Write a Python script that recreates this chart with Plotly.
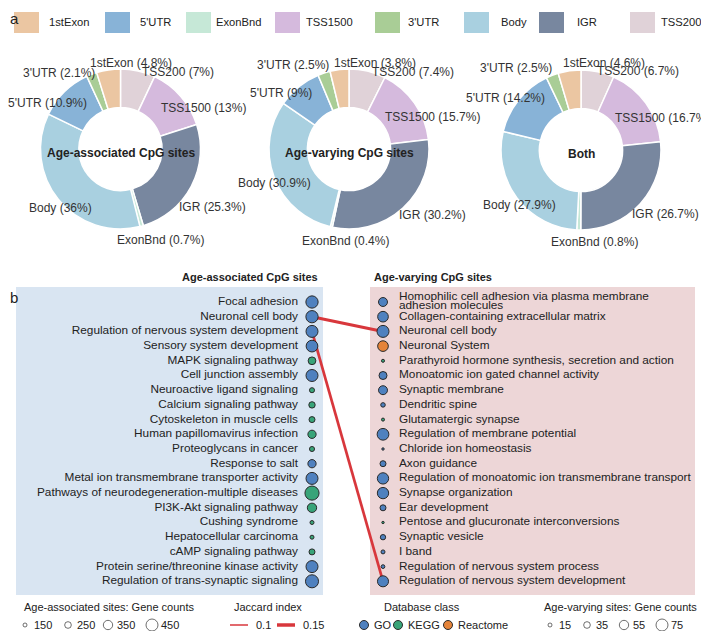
import plotly.graph_objects as go

W, H = 709, 631
PAGE = 8                     # browser body margin around the plot div
FW, FH = W - PAGE, H - PAGE  # figure size so the page fits the window
FONT = "Liberation Sans, Arial, sans-serif"

# ---------------- panel a: genomic region of CpG sites (%)
pie_labels = ["TSS200", "TSS1500", "IGR", "ExonBnd", "Body", "5'UTR", "3'UTR", "1stExon"]
pie_assoc = [7, 13, 25.3, 0.7, 36, 10.9, 2.1, 4.8]
pie_vary = [7.4, 15.7, 30.2, 0.4, 30.9, 9, 2.5, 3.8]
pie_both = [6.7, 16.7, 26.7, 0.8, 27.9, 14.2, 2.5, 4.6]
pie_titles = ["Age-associated CpG sites", "Age-varying CpG sites", "Both"]
legend_order = ["1stExon", "5'UTR", "ExonBnd", "TSS1500", "3'UTR", "Body", "IGR", "TSS200"]
region_colors = {
    "1stExon": "#ebc6a2", "5'UTR": "#88b3d7", "ExonBnd": "#c6e8d7", "TSS1500": "#d5badd",
    "3'UTR": "#a9cd96", "Body": "#a9d0e0", "IGR": "#78879f", "TSS200": "#e0d2d8",
}

# ---------------- panel b: enrichment terms
assoc_terms = [
    "Focal adhesion", "Neuronal cell body", "Regulation of nervous system development",
    "Sensory system development", "MAPK signaling pathway", "Cell junction assembly",
    "Neuroactive ligand signaling", "Calcium signaling pathway", "Cytoskeleton in muscle cells",
    "Human papillomavirus infection", "Proteoglycans in cancer", "Response to salt",
    "Metal ion transmembrane transporter activity", "Pathways of neurodegeneration-multiple diseases",
    "PI3K-Akt signaling pathway", "Cushing syndrome", "Hepatocellular carcinoma",
    "cAMP signaling pathway", "Protein serine/threonine kinase activity",
    "Regulation of trans-synaptic signaling",
]
assoc_counts = [460, 460, 450, 440, 290, 450, 190, 240, 225, 310,
                190, 310, 450, 530, 350, 150, 150, 225, 450, 490]
assoc_class = ["GO", "GO", "GO", "GO", "KEGG", "GO", "KEGG", "KEGG", "KEGG", "KEGG",
               "KEGG", "GO", "GO", "KEGG", "KEGG", "KEGG", "KEGG", "KEGG", "GO", "GO"]

vary_terms = [
    "Homophilic cell adhesion via plasma membrane\nadhesion molecules",
    "Collagen-containing extracellular matrix", "Neuronal cell body", "Neuronal System",
    "Parathyroid hormone synthesis, secretion and action", "Monoatomic ion gated channel activity",
    "Synaptic membrane", "Dendritic spine", "Glutamatergic synapse",
    "Regulation of membrane potential", "Chloride ion homeostasis", "Axon guidance",
    "Regulation of monoatomic ion transmembrane transport", "Synapse organization",
    "Ear development", "Pentose and glucuronate interconversions", "Synaptic vesicle",
    "I band", "Regulation of nervous system process", "Regulation of nervous system development",
]
vary_counts = [52, 65, 75, 65, 8, 45, 52, 19, 8, 73, 3, 30, 70, 70, 30, 3, 25, 15, 13, 68]
vary_class = ["GO", "GO", "GO", "Reactome", "KEGG", "GO", "GO", "GO", "KEGG", "GO",
              "GO", "GO", "GO", "GO", "GO", "KEGG", "GO", "GO", "GO", "GO"]

link_from = ["Neuronal cell body", "Regulation of nervous system development"]
link_to = ["Neuronal cell body", "Regulation of nervous system development"]
link_jaccard = [0.14, 0.13]

assoc_size_legend = [150, 250, 350, 450]
vary_size_legend = [15, 35, 55, 75]
jaccard_legend = [0.1, 0.15]
class_legend = ["GO", "KEGG", "Reactome"]
class_colors = {"GO": "#4f81bf", "KEGG": "#38a479", "Reactome": "#e5843a"}

# label placement around each donut (pixel offsets from donut centre)
label_offsets = [
    {"TSS200": (57, -77), "TSS1500": (83, -41), "IGR": (92, 58), "ExonBnd": (40, 91),
     "Body": (-60, 59), "5'UTR": (-73, -46), "3'UTR": (-62, -76), "1stExon": (11, -86)},
    {"TSS200": (64, -77), "TSS1500": (83, -32), "IGR": (83, 66), "ExonBnd": (-4, 92),
     "Body": (-75, 34), "5'UTR": (-68, -56), "3'UTR": (-56, -84), "1stExon": (26, -86)},
    {"TSS200": (57, -79), "TSS1500": (81, -32), "IGR": (84, 64), "ExonBnd": (13, 92),
     "Body": (-62, 55), "5'UTR": (-76, -52), "3'UTR": (-65, -82), "1stExon": (23, -87)},
]


def size_assoc(c):
    return c / 37.5


def size_vary(c):
    return 2 + c * 8 / 60


def jac_width(j):
    return 1.5 + (j - 0.1) * 40


def px(x):
    # page pixel -> paper fraction
    return (x - PAGE) / FW


def py(y):
    return 1 - (y - PAGE) / FH


def txt(size, color="#222222"):
    return dict(size=size, color=color, family=FONT)


fig = go.Figure()
annotations = []

# ---- donuts
pie_centers = [(120.5, 149), (349, 149), (581, 150)]
R = 80
for vals, title, (cx, cy), offs in zip([pie_assoc, pie_vary, pie_both], pie_titles, pie_centers, label_offsets):
    fig.add_trace(go.Pie(
        labels=pie_labels, values=vals, sort=False, direction="clockwise", rotation=0,
        hole=0.52, textinfo="none",
        marker=dict(colors=[region_colors[l] for l in pie_labels], line=dict(color="white", width=1.5)),
        domain=dict(x=[px(cx - R), px(cx + R)], y=[py(cy + R), py(cy - R)]),
        showlegend=False, hoverinfo="skip",
    ))
    annotations.append(dict(x=px(cx), y=py(cy + 4), xref="paper", yref="paper", text=f"<b>{title}</b>",
                            showarrow=False, xanchor="center", yanchor="middle", font=txt(12)))
    for lab, v in zip(pie_labels, vals):
        dx, dy = offs[lab]
        annotations.append(dict(x=px(cx + dx), y=py(cy + dy), xref="paper", yref="paper",
                                text=f"{lab} ({v:g}%)", showarrow=False,
                                xanchor="center", yanchor="middle", font=txt(12, "#333333")))

# ---- panel b (x: 0 = left column, 1 = right column; y: row index)
UNIT = 71
X0 = 312
ROW0, STEP = 302, 14.7
TOP, BOTTOM = 287, 595
LAB = 11.8

for f, t, j in zip(link_from, link_to, link_jaccard):
    fig.add_trace(go.Scatter(
        x=[0, 1], y=[assoc_terms.index(f), vary_terms.index(t)], mode="lines",
        line=dict(color="#d8373c", width=jac_width(j)), showlegend=False, hoverinfo="skip"))

fig.add_trace(go.Scatter(
    x=[0] * len(assoc_terms), y=list(range(len(assoc_terms))), mode="markers",
    marker=dict(size=[size_assoc(c) for c in assoc_counts],
                color=[class_colors[c] for c in assoc_class],
                line=dict(color="#2a2a2a", width=1), opacity=1),
    cliponaxis=False, showlegend=False, hoverinfo="skip"))
fig.add_trace(go.Scatter(
    x=[1] * len(vary_terms), y=list(range(len(vary_terms))), mode="markers",
    marker=dict(size=[size_vary(c) for c in vary_counts],
                color=[class_colors[c] for c in vary_class],
                line=dict(color="#2a2a2a", width=1), opacity=1),
    cliponaxis=False, showlegend=False, hoverinfo="skip"))

fig.add_trace(go.Scatter(
    x=[-14 / UNIT] * len(assoc_terms), y=list(range(len(assoc_terms))), mode="text",
    text=assoc_terms, textposition="middle left", cliponaxis=False,
    textfont=txt(LAB), showlegend=False, hoverinfo="skip"))

vx, vy, vt = [], [], []
for i, term in enumerate(vary_terms):
    lines = term.split("\n")
    for k, ln in enumerate(lines):
        vx.append(1 + 16 / UNIT)
        vy.append(i + (k - (len(lines) - 1) / 2) * 0.62)
        vt.append(ln)
fig.add_trace(go.Scatter(
    x=vx, y=vy, mode="text", text=vt, textposition="middle right", cliponaxis=False,
    textfont=txt(LAB), showlegend=False, hoverinfo="skip"))

# ---- background panels and legends
sw_left = [14, 105, 186, 275, 375, 464, 539, 630]
sw_text = [47, 138, 214, 304, 406, 499, 575, 659]
shapes = [
    dict(type="rect", xref="paper", yref="paper", x0=px(16), x1=px(323), y0=py(BOTTOM), y1=py(TOP),
         fillcolor="#d9e5f2", line_width=0, layer="below"),
    dict(type="rect", xref="paper", yref="paper", x0=px(370), x1=px(695), y0=py(BOTTOM), y1=py(TOP),
         fillcolor="#edd6d7", line_width=0, layer="below"),
]
for lab, x, xt in zip(legend_order, sw_left, sw_text):
    shapes.append(dict(type="rect", xref="paper", yref="paper", x0=px(x), x1=px(x + 25),
                       y0=py(33), y1=py(12), fillcolor=region_colors[lab], line_width=0))
    annotations.append(dict(x=px(xt), y=py(22), xref="paper", yref="paper", text=lab,
                            showarrow=False, xanchor="left", yanchor="middle", font=txt(11.2)))

LT, LI = 607, 625
leg_x = [25, 68, 108, 152]
fig.add_trace(go.Scatter(
    x=leg_x, y=[LI] * 4, mode="markers", xaxis="x2", yaxis="y2", cliponaxis=False,
    marker=dict(symbol="circle-open", size=[size_assoc(c) for c in assoc_size_legend],
                color="#333333", line=dict(width=1)), showlegend=False, hoverinfo="skip"))
for x, c in zip(leg_x, assoc_size_legend):
    annotations.append(dict(x=px(x + 7), y=py(LI), xref="paper", yref="paper", text=str(c),
                            showarrow=False, xanchor="left", yanchor="middle", font=txt(11)))

jac_x = [230, 277]
for x, j in zip(jac_x, jaccard_legend):
    fig.add_trace(go.Scatter(
        x=[x, x + 18], y=[LI, LI], mode="lines", xaxis="x2", yaxis="y2", cliponaxis=False,
        line=dict(color="#d8373c", width=jac_width(j)), showlegend=False, hoverinfo="skip"))
    annotations.append(dict(x=px(x + 24), y=py(LI), xref="paper", yref="paper", text=f"{j:g}",
                            showarrow=False, xanchor="left", yanchor="middle", font=txt(11)))

cls_x = [364, 398, 448]
fig.add_trace(go.Scatter(
    x=cls_x, y=[LI] * 3, mode="markers", xaxis="x2", yaxis="y2", cliponaxis=False,
    marker=dict(size=9, color=[class_colors[c] for c in class_legend],
                line=dict(color="#2a2a2a", width=1)), showlegend=False, hoverinfo="skip"))
for x, c in zip(cls_x, class_legend):
    annotations.append(dict(x=px(x + 8), y=py(LI), xref="paper", yref="paper", text=c,
                            showarrow=False, xanchor="left", yanchor="middle", font=txt(11)))

vleg_x = [550, 587, 624, 662]
fig.add_trace(go.Scatter(
    x=vleg_x, y=[LI] * 4, mode="markers", xaxis="x2", yaxis="y2", cliponaxis=False,
    marker=dict(symbol="circle-open", size=[size_vary(c) for c in vary_size_legend],
                color="#333333", line=dict(width=1)), showlegend=False, hoverinfo="skip"))
for x, c in zip(vleg_x, vary_size_legend):
    annotations.append(dict(x=px(x + 7), y=py(LI), xref="paper", yref="paper", text=str(c),
                            showarrow=False, xanchor="left", yanchor="middle", font=txt(11)))

for t, x, anchor in [("Age-associated sites: Gene counts", 22, "left"), ("Jaccard index", 268, "center"),
                     ("Database class", 422, "center"), ("Age-varying sites: Gene counts", 542, "left")]:
    annotations.append(dict(x=px(x), y=py(LT), xref="paper", yref="paper", text=t,
                            showarrow=False, xanchor=anchor, yanchor="middle", font=txt(11)))

annotations += [
    dict(x=px(320), y=py(277), xref="paper", yref="paper", text="<b>Age-associated CpG sites</b>",
         showarrow=False, xanchor="right", yanchor="middle", font=txt(11)),
    dict(x=px(372), y=py(277), xref="paper", yref="paper", text="<b>Age-varying CpG sites</b>",
         showarrow=False, xanchor="left", yanchor="middle", font=txt(11)),
    dict(x=px(PAGE), y=1, xref="paper", yref="paper", text="a",
         showarrow=False, xanchor="left", yanchor="top", font=txt(15)),
    dict(x=px(PAGE), y=py(297), xref="paper", yref="paper", text="b",
         showarrow=False, xanchor="left", yanchor="middle", font=txt(15)),
]

fig.update_layout(
    width=FW, height=FH, margin=dict(l=0, r=0, t=0, b=0, pad=0, autoexpand=False),
    paper_bgcolor="white", plot_bgcolor="rgba(0,0,0,0)",
    font=dict(family=FONT, color="#222222"),
    xaxis=dict(domain=[0, 1], range=[-(X0 - PAGE) / UNIT, (FW - (X0 - PAGE)) / UNIT],
               visible=False, fixedrange=True),
    yaxis=dict(domain=[py(BOTTOM), py(TOP)],
               range=[(BOTTOM - ROW0) / STEP, (TOP - ROW0) / STEP], visible=False, fixedrange=True),
    xaxis2=dict(domain=[0, 1], range=[PAGE, W], visible=False, anchor="y2", fixedrange=True),
    yaxis2=dict(domain=[0, 1], range=[H, PAGE], visible=False, anchor="x2", fixedrange=True),
    shapes=shapes, annotations=annotations, showlegend=False,
)

fig.write_html("out.html")
